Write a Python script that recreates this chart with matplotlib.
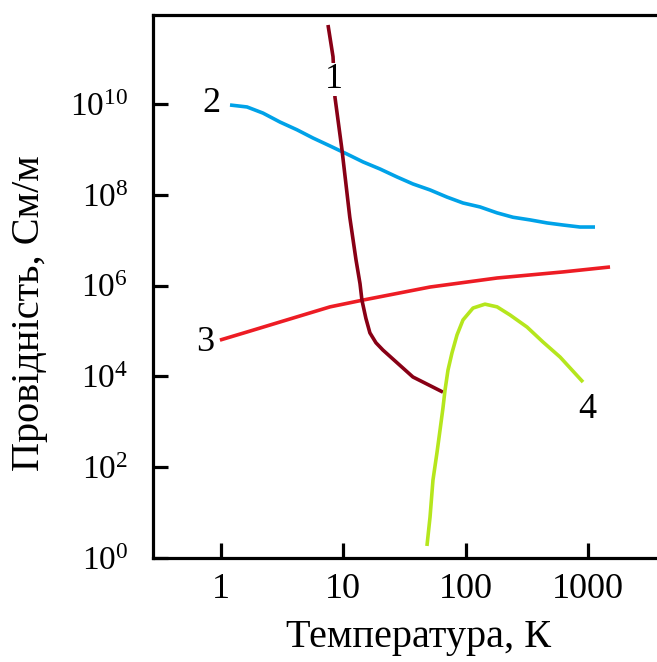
import matplotlib
matplotlib.use("Agg")
import matplotlib.pyplot as plt

# ---- data ----
t1 = [7.50, 8.24, 8.55, 9.76, 11.3, 12.7, 13.7, 14.2, 15.3, 16.5, 18.5, 21.1, 27.5, 37.1, 65.3]
s1 = [5.5e11, 1.1e11, 1.4e10, 9.7e8, 3.2e7, 3.7e6, 1.1e6, 4.8e5, 1.9e5, 9.1e4, 5.5e4, 3.8e4,
      2.0e4, 9.7e3, 4.5e3]

t2 = [1.185, 1.632, 2.205, 3.037, 4.183, 5.653, 7.787, 10.72, 14.49, 19.96, 27.49, 37.15,
      51.17, 70.47, 95.2, 131.2, 180.7, 244.1, 336.3, 463.1, 625.8, 861.8, 1143]
s2 = [9.5e9, 8.6e9, 6.3e9, 4.0e9, 2.7e9, 1.78e9, 1.19e9, 7.9e8, 5.3e8, 3.7e8, 2.47e8, 1.73e8,
      1.28e8, 8.9e7, 6.6e7, 5.4e7, 4.0e7, 3.2e7, 2.8e7, 2.4e7, 2.16e7, 1.95e7, 1.95e7]

t3 = [0.98, 1.63, 3.04, 7.79, 14.5, 51.2, 181, 626, 1517]
s3 = [6.3e4, 9.5e4, 1.58e5, 3.4e5, 4.8e5, 9.3e5, 1.47e6, 2.0e6, 2.57e6]

t4 = [48.3, 51.2, 54.1, 58.3, 61.8, 65.3, 67.9, 71.8, 77.4, 85.1, 95.2, 115, 144, 181, 231,
      318, 430, 592, 912]
s4 = [1.84, 8.0, 52, 206, 660, 2010, 5000, 1.38e4, 3.3e4, 8.2e4, 1.75e5, 3.2e5, 3.9e5, 3.4e5,
      2.25e5, 1.22e5, 5.7e4, 2.67e4, 7.5e3]

xticks = [1, 10, 100, 1000]
xticklabels = ["1", "10", "100", "1000"]
yticks = [1e0, 1e2, 1e4, 1e6, 1e8, 1e10]
yticklabels = [r"$\mathregular{10^{0}}$", r"$\mathregular{10^{2}}$", r"$\mathregular{10^{4}}$",
               r"$\mathregular{10^{6}}$", r"$\mathregular{10^{8}}$", r"$\mathregular{10^{10}}$"]

curve_labels = ["1", "2", "3", "4"]

plt.rcParams["font.family"] = ["Liberation Serif", "DejaVu Serif"]
plt.rcParams["mathtext.fontset"] = "custom"
plt.rcParams["mathtext.rm"] = "Liberation Serif"

W, H = 657, 662
fig = plt.figure(figsize=(W / 100, H / 100), dpi=100)
left, right, top, bottom = 153, 657, 15, 558
ax = fig.add_axes([left / W, 1 - bottom / H, (right - left) / W, (bottom - top) / H])

ax.set_xscale("log")
ax.set_yscale("log")
ax.set_xlim(0.278, 3673)
ax.set_ylim(1, 10 ** 11.96)

lw = 2.6
ax.plot(t1, s1, color="#880015", lw=lw, solid_capstyle="butt", solid_joinstyle="round", zorder=3)
ax.plot(t2, s2, color="#00A2E8", lw=lw, solid_capstyle="butt", solid_joinstyle="round", zorder=2)
ax.plot(t3, s3, color="#ED1C24", lw=lw, solid_capstyle="butt", solid_joinstyle="round", zorder=2)
ax.plot(t4, s4, color="#B5E61D", lw=lw, solid_capstyle="butt", solid_joinstyle="round", zorder=4)

fs_lab = 26
ax.text(8.3, 10 ** 10.53, curve_labels[0], fontsize=fs_lab, ha="center", va="center", zorder=5,
        bbox=dict(facecolor="white", edgecolor="none", pad=0))
ax.text(0.84, 1e10, curve_labels[1], fontsize=fs_lab, ha="center", va="center")
ax.text(0.74, 10 ** 4.74, curve_labels[2], fontsize=fs_lab, ha="center", va="center")
ax.text(984, 10 ** 3.26, curve_labels[3], fontsize=fs_lab, ha="center", va="center")

ax.spines["right"].set_visible(False)
for s in ["left", "bottom", "top"]:
    ax.spines[s].set_linewidth(2.3)

ax.set_xticks(xticks)
ax.set_xticklabels(xticklabels)
ax.set_yticks(yticks)
ax.set_yticklabels(yticklabels)
ax.minorticks_off()
ax.tick_params(axis="both", which="major", direction="in", length=11, width=2.3)
ax.tick_params(axis="x", labelsize=26, pad=11)
ax.tick_params(axis="y", labelsize=24, pad=18)

fig.text(419 / W, 1 - 638 / H, "Температура, К", fontsize=29, ha="center", va="center")
fig.text(30 / W, 1 - 313 / H, "Провідність, См/м", fontsize=29, ha="center", va="center",
         rotation=90)

fig.savefig("out.png", dpi=100)
